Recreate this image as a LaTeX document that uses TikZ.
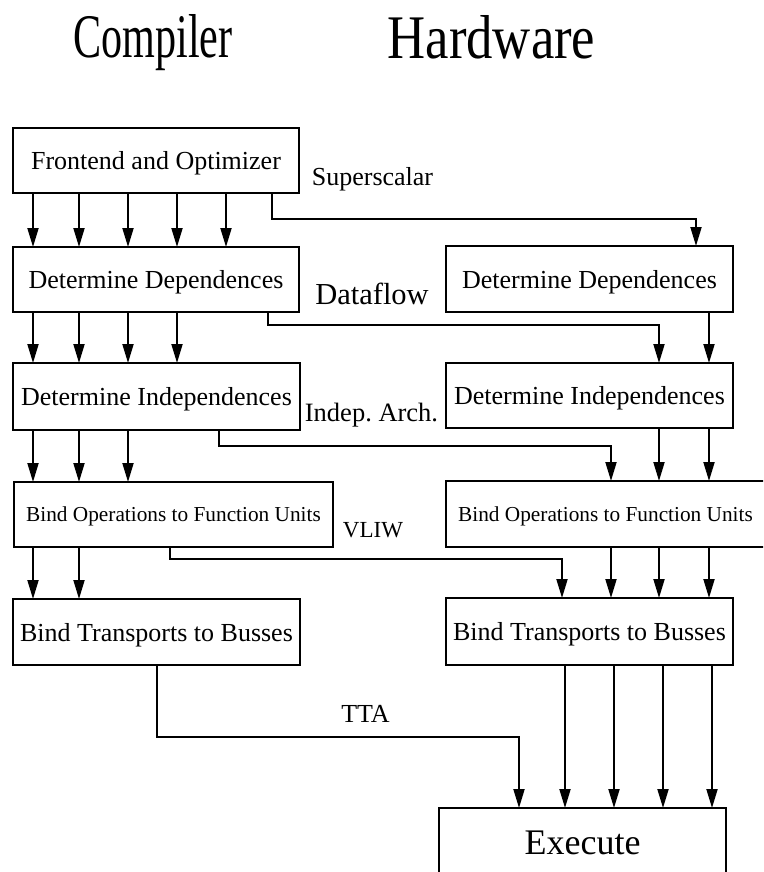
\documentclass[tikz,border=0pt]{standalone}
\usepackage{graphicx}
\usepackage{fontspec}
\setmainfont{Liberation Serif}
\usetikzlibrary{arrows.meta}
\begin{document}
\begin{tikzpicture}[x=1pt,y=-1pt,
  box/.style={draw, line width=1.9pt, inner sep=0pt, outer sep=0pt,
    font=\fontsize{26}{30}\selectfont, text height=18pt, text depth=0pt},
  smallbox/.style={box, font=\fontsize{21.3}{24}\selectfont, text height=14pt},
  arr/.style={line width=1.9pt, -{Triangle[length=19pt,width=11pt]}},
  lbl/.style={anchor=base, inner sep=0pt, outer sep=0pt},
  title/.style={lbl, font=\fontsize{62}{62}\selectfont}]
\useasboundingbox (0,0) rectangle (763,872);
\clip (0,0) rectangle (763,872);

% column headings
\node[title] (hc) at (153,58) {\scalebox{0.68}[1]{Compiler}};
\node[title] (hh) at (491.5,59) {\scalebox{0.85}[1]{Hardware}};

% compiler side
\node[box, minimum width=286pt, minimum height=65pt] (fe) at (156,160.5) {Frontend and Optimizer};
\node[box, minimum width=286pt, minimum height=65pt] (cdd) at (156,279.5) {Determine Dependences};
\node[box, minimum width=287pt, minimum height=67pt] (cdi) at (156.5,396.5) {Determine Independences};
\node[smallbox, minimum width=319pt, minimum height=65pt] (cbo) at (173.5,514.5) {Bind Operations to Function Units};
\node[box, minimum width=287pt, minimum height=66pt] (cbt) at (156.5,632) {Bind Transports to Busses};

% hardware side
\node[box, minimum width=287pt, minimum height=66pt] (hdd) at (589.5,279) {Determine Dependences};
\node[box, minimum width=287pt, minimum height=65pt] (hdi) at (589.5,395.5) {Determine Independences};
\node[smallbox, minimum width=319pt, minimum height=66pt] (hbo) at (605.5,514) {Bind Operations to Function Units};
\node[box, minimum width=287pt, minimum height=67pt] (hbt) at (589.5,631.5) {Bind Transports to Busses};
\node[box, minimum width=287pt, minimum height=68pt, font=\fontsize{36}{40}\selectfont, text height=24pt] (ex) at (582.5,842) {Execute};

% architecture labels
\node[lbl, font=\fontsize{26}{30}\selectfont] (lss) at (372.5,185) {Superscalar};
\node[lbl, font=\fontsize{30.5}{34}\selectfont] (ldf) at (372,304) {Dataflow};
\node[lbl, font=\fontsize{26.5}{30}\selectfont] (lia) at (371.5,421) {Indep.\ Arch.};
\node[lbl, font=\fontsize{23}{26}\selectfont] (lvl) at (373,537) {VLIW};
\node[lbl, font=\fontsize{26}{30}\selectfont] (ltt) at (365.5,722) {TTA};

% arrow columns
\coordinate (c1) at (33,0);
\coordinate (c2) at (79,0);
\coordinate (c3) at (128,0);
\coordinate (c4) at (177,0);
\coordinate (c5) at (226,0);
\coordinate (h1) at (611,0);
\coordinate (h2) at (659,0);
\coordinate (h3) at (709,0);
\coordinate (e1) at (565,0);
\coordinate (e2) at (614,0);
\coordinate (e3) at (663,0);
\coordinate (e4) at (712,0);

% bends of the hand-over connectors
\coordinate (b1) at (272,219);  \coordinate (t1) at (696,0);
\coordinate (b2) at (268,325);  \coordinate (t2) at (659,0);
\coordinate (b3) at (219,446);  \coordinate (t3) at (611,0);
\coordinate (b4) at (170,559);  \coordinate (t4) at (562,0);
\coordinate (b5) at (157,737);  \coordinate (t5) at (519,0);

% compiler-side flows
\foreach \c in {c1,c2,c3,c4,c5} \draw[arr] (fe.south -| \c) -- (cdd.north -| \c);
\foreach \c in {c1,c2,c3,c4} \draw[arr] (cdd.south -| \c) -- (cdi.north -| \c);
\foreach \c in {c1,c2,c3} \draw[arr] (cdi.south -| \c) -- (cbo.north -| \c);
\foreach \c in {c1,c2} \draw[arr] (cbo.south -| \c) -- (cbt.north -| \c);

% hand-over to hardware
\draw[arr] (fe.south -| b1) -- (b1) -| (hdd.north -| t1);
\draw[arr] (cdd.south -| b2) -- (b2) -| (hdi.north -| t2);
\draw[arr] (cdi.south -| b3) -- (b3) -| (hbo.north -| t3);
\draw[arr] (cbo.south -| b4) -- (b4) -| (hbt.north -| t4);
\draw[arr] (cbt.south -| b5) -- (b5) -| (ex.north -| t5);

% hardware-side flows
\draw[arr] (hdd.south -| h3) -- (hdi.north -| h3);
\foreach \c in {h2,h3} \draw[arr] (hdi.south -| \c) -- (hbo.north -| \c);
\foreach \c in {h1,h2,h3} \draw[arr] (hbo.south -| \c) -- (hbt.north -| \c);
\foreach \c in {e1,e2,e3,e4} \draw[arr] (hbt.south -| \c) -- (ex.north -| \c);
\end{tikzpicture}
\end{document}
